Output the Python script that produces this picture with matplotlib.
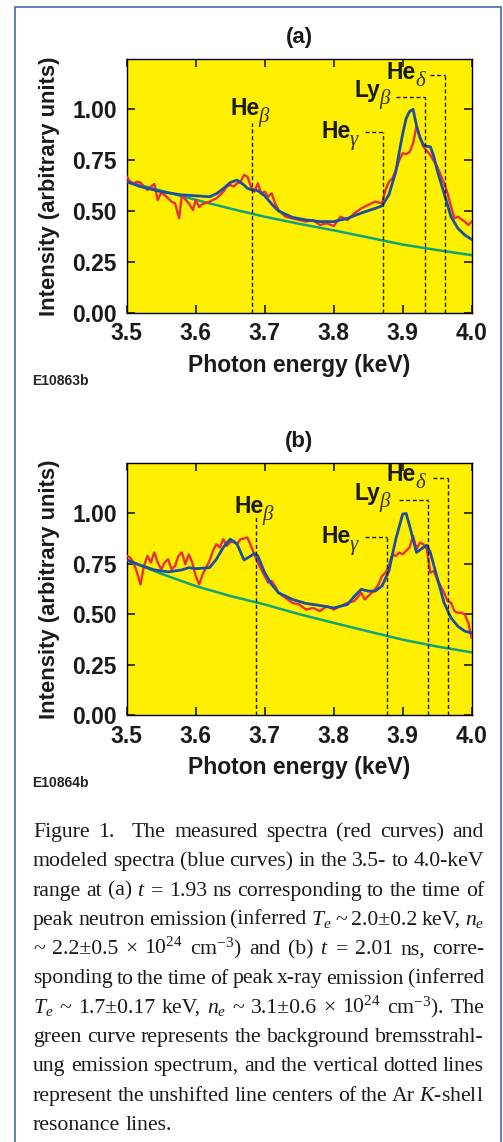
import numpy as np
import matplotlib.pyplot as plt
from matplotlib.patches import Rectangle

plt.rcParams['font.family'] = ['Liberation Sans', 'DejaVu Sans']
plt.rcParams['mathtext.fontset'] = 'custom'
plt.rcParams['mathtext.rm'] = 'Liberation Serif'
plt.rcParams['mathtext.it'] = 'Liberation Serif:italic'
plt.rcParams['mathtext.bf'] = 'Liberation Serif:bold'

W, H = 503, 1142

# ---- panel (a) ----
red_a_x = [3.500, 3.505, 3.510, 3.515, 3.520, 3.525, 3.530, 3.535, 3.540, 3.545,
           3.550, 3.555, 3.560, 3.565, 3.570, 3.576, 3.580, 3.585, 3.590, 3.596,
           3.600, 3.605, 3.610, 3.620, 3.630, 3.640, 3.645, 3.650, 3.655, 3.660,
           3.665, 3.670, 3.675, 3.680, 3.685, 3.690, 3.695, 3.700, 3.705, 3.710,
           3.715, 3.720, 3.730, 3.740, 3.750, 3.760, 3.770, 3.780, 3.790, 3.800,
           3.810, 3.820, 3.830, 3.840, 3.850, 3.860, 3.870, 3.875, 3.880, 3.885,
           3.890, 3.895, 3.900, 3.905, 3.910, 3.915, 3.920, 3.925, 3.930, 3.940,
           3.950, 3.960, 3.965, 3.970, 3.975, 3.980, 3.990, 3.995, 4.000]
red_a_y = [0.669, 0.644, 0.636, 0.644, 0.640, 0.620, 0.603, 0.620, 0.633, 0.554,
           0.590, 0.579, 0.562, 0.546, 0.538, 0.464, 0.579, 0.557, 0.538, 0.505,
           0.554, 0.520, 0.534, 0.546, 0.562, 0.595, 0.620, 0.628, 0.620, 0.636,
           0.644, 0.677, 0.669, 0.620, 0.595, 0.636, 0.587, 0.595, 0.570, 0.587,
           0.538, 0.505, 0.472, 0.464, 0.456, 0.448, 0.456, 0.431, 0.440, 0.426,
           0.472, 0.456, 0.489, 0.513, 0.530, 0.546, 0.538, 0.603, 0.644, 0.660,
           0.700, 0.750, 0.784, 0.780, 0.790, 0.833, 0.915, 0.866, 0.816, 0.775,
           0.718, 0.636, 0.587, 0.521, 0.464, 0.472, 0.448, 0.431, 0.448]

blue_a_x = [3.50, 3.52, 3.55, 3.58, 3.60, 3.62, 3.63, 3.64, 3.65, 3.66,
            3.67, 3.675, 3.68, 3.69, 3.70, 3.71, 3.72, 3.74, 3.76, 3.78,
            3.80, 3.82, 3.84, 3.86, 3.87, 3.88, 3.89, 3.895, 3.90, 3.905,
            3.91, 3.915, 3.92, 3.925, 3.93, 3.935, 3.94, 3.945, 3.95, 3.96,
            3.97, 3.98, 3.99, 4.00]
blue_a_y = [0.644, 0.620, 0.595, 0.579, 0.575, 0.570, 0.585, 0.610, 0.640, 0.652,
            0.628, 0.612, 0.605, 0.600, 0.575, 0.535, 0.500, 0.469, 0.456, 0.448,
            0.448, 0.464, 0.490, 0.513, 0.525, 0.580, 0.693, 0.790, 0.880, 0.955,
            0.990, 1.000, 0.920, 0.860, 0.825, 0.818, 0.816, 0.770, 0.700, 0.587,
            0.472, 0.415, 0.382, 0.360]

green_a_x = [3.50, 3.55, 3.60, 3.65, 3.70, 3.75, 3.80, 3.85, 3.90, 3.95, 4.00]
green_a_y = [0.645, 0.600, 0.555, 0.512, 0.472, 0.437, 0.405, 0.370, 0.335, 0.308, 0.283]

# ---- panel (b) ----
red_b_x = [3.500, 3.505, 3.510, 3.515, 3.520, 3.525, 3.530, 3.535, 3.540, 3.545,
           3.550, 3.555, 3.560, 3.565, 3.570, 3.575, 3.580, 3.585, 3.590, 3.595,
           3.600, 3.605, 3.610, 3.615, 3.620, 3.625, 3.630, 3.635, 3.640, 3.645,
           3.650, 3.655, 3.660, 3.665, 3.670, 3.675, 3.680, 3.685, 3.690, 3.695,
           3.700, 3.705, 3.710, 3.715, 3.720, 3.730, 3.740, 3.750, 3.760, 3.770,
           3.780, 3.790, 3.800, 3.810, 3.820, 3.830, 3.840, 3.845, 3.850, 3.860,
           3.865, 3.870, 3.875, 3.880, 3.885, 3.890, 3.895, 3.900, 3.905, 3.910,
           3.915, 3.920, 3.925, 3.930, 3.935, 3.940, 3.945, 3.950, 3.955, 3.960,
           3.965, 3.970, 3.975, 3.980, 3.985, 3.990, 3.995, 4.000]
red_b_y = [0.788, 0.780, 0.755, 0.705, 0.647, 0.738, 0.788, 0.755, 0.805, 0.755,
           0.722, 0.755, 0.772, 0.722, 0.738, 0.788, 0.805, 0.747, 0.796, 0.755,
           0.689, 0.647, 0.697, 0.730, 0.763, 0.813, 0.846, 0.830, 0.871, 0.838,
           0.855, 0.863, 0.846, 0.871, 0.874, 0.879, 0.838, 0.796, 0.755, 0.722,
           0.689, 0.656, 0.664, 0.639, 0.606, 0.581, 0.556, 0.548, 0.523, 0.531,
           0.515, 0.540, 0.523, 0.540, 0.556, 0.565, 0.606, 0.573, 0.589, 0.623,
           0.647, 0.689, 0.705, 0.738, 0.796, 0.788, 0.805, 0.796, 0.813, 0.830,
           0.887, 0.822, 0.854, 0.846, 0.822, 0.705, 0.714, 0.672, 0.639, 0.606,
           0.565, 0.556, 0.515, 0.507, 0.507, 0.498, 0.457, 0.382]

blue_b_x = [3.50, 3.52, 3.54, 3.56, 3.58, 3.59, 3.60, 3.62, 3.63, 3.64,
            3.65, 3.66, 3.67, 3.68, 3.685, 3.69, 3.70, 3.71, 3.72, 3.74,
            3.76, 3.78, 3.80, 3.82, 3.83, 3.84, 3.85, 3.86, 3.87, 3.88,
            3.89, 3.90, 3.905, 3.91, 3.92, 3.93, 3.935, 3.94, 3.95, 3.96,
            3.97, 3.98, 3.99, 4.00]
blue_b_y = [0.768, 0.742, 0.719, 0.709, 0.719, 0.730, 0.725, 0.730, 0.772, 0.830,
            0.871, 0.846, 0.768, 0.788, 0.800, 0.788, 0.705, 0.647, 0.606, 0.573,
            0.553, 0.543, 0.531, 0.548, 0.589, 0.623, 0.614, 0.614, 0.639, 0.714,
            0.871, 0.995, 0.998, 0.937, 0.805, 0.830, 0.841, 0.805, 0.680, 0.556,
            0.482, 0.440, 0.416, 0.407]

green_b_x = [3.50, 3.55, 3.60, 3.65, 3.70, 3.75, 3.80, 3.85, 3.90, 3.95, 4.00]
green_b_y = [0.768, 0.700, 0.639, 0.590, 0.548, 0.500, 0.457, 0.415, 0.374, 0.340, 0.311]

# line centres: energy, top of dashed line, start of horizontal leader
line_base = ['He', 'He', 'Ly', 'He']
line_greek = ['β', 'γ', 'β', 'δ']
centres_a = [3.682, 3.872, 3.932, 3.961]
tops_a = [0.931, 0.887, 1.062, 1.167]
leader_a = [None, 3.845, 3.891, 3.940]
label_pos_a = [(3.650, 0.970), (3.782, 0.857), (3.830, 1.062), (3.877, 1.150)]

centres_b = [3.687, 3.877, 3.937, 3.966]
tops_b = [0.987, 0.884, 1.065, 1.172]
leader_b = [None, 3.846, 3.894, 3.944]
label_pos_b = [(3.656, 1.000), (3.782, 0.851), (3.830, 1.065), (3.877, 1.157)]

x_ticks = [3.5, 3.6, 3.7, 3.8, 3.9, 4.0]
y_ticks = [0.00, 0.25, 0.50, 0.75, 1.00]

YELLOW = '#fff000'
RED = '#e8303a'
BLUE = '#1c4f9e'
GREEN = '#10a47c'
INK = '#1a1a1a'


def draw_panel(ax, red, blue, green, centres, tops, leaders, label_pos, title, code):
    ax.set_facecolor(YELLOW)
    ax.plot(green[0], green[1], color=GREEN, lw=1.8, zorder=2)
    ax.plot(red[0], red[1], color=RED, lw=1.7, zorder=3)
    ax.plot(blue[0], blue[1], color=BLUE, lw=2.0, zorder=4)

    for c, t, l in zip(centres, tops, leaders):
        ax.plot([c, c], [0, t], color=INK, lw=1.0, ls=(0, (2.9, 1.9)), zorder=5)
        if l is not None:
            ax.plot([l, c], [t, t], color=INK, lw=1.0, ls=(0, (2.9, 1.9)), zorder=5)

    renderer = ax.figure.canvas.get_renderer()
    for base, greek, (lx, ly) in zip(line_base, line_greek, label_pos):
        t = ax.text(lx, ly, base, fontsize=16.5, fontweight='bold', va='baseline',
                    ha='left', color=INK, zorder=6)
        w_pt = t.get_window_extent(renderer).width * 72 / 100
        ax.annotate(greek, xy=(lx, ly), xytext=(w_pt - 0.8, -5), textcoords='offset points',
                    fontsize=15, family='Liberation Serif', style='italic',
                    va='baseline', ha='left', color='#333333', zorder=6)

    ax.set_xlim(3.5, 4.0)
    ax.set_ylim(0, 1.246)
    ax.set_xticks(x_ticks)
    ax.set_xticklabels([f'{v:.1f}' for v in x_ticks])
    ax.set_yticks(y_ticks)
    ax.set_yticklabels([f'{v:.2f}' for v in y_ticks])
    ax.tick_params(direction='in', length=6, width=1.2, top=True, right=True,
                   labelsize=16.5, pad=7, colors=INK)
    for lab in ax.get_xticklabels() + ax.get_yticklabels():
        lab.set_fontweight('bold')
    for sp in ax.spines.values():
        sp.set_linewidth(1.0)
    ax.set_xlabel('Photon energy (keV)', fontsize=16.5, fontweight='bold', labelpad=6,
                  color=INK)
    ax.set_ylabel('Intensity (arbitrary units)', fontsize=15.8, fontweight='bold',
                  labelpad=9, color=INK)
    ax.set_title(title, fontsize=16, fontweight='bold', pad=12, color=INK)
    ax.text(-0.275, -0.27, code, transform=ax.transAxes, fontsize=10, fontweight='bold',
            color='#222222', va='center')


fig = plt.figure(figsize=(W / 100, H / 100), dpi=100)
fig.patch.set_facecolor('white')
fig.add_artist(Rectangle((15 / W, -0.01), (501 - 15) / W, 1.01 - 7 / H,
                         transform=fig.transFigure, fill=False,
                         edgecolor='#4a78b4', lw=1.3))

ax_a = fig.add_axes([126.7 / W, 1 - 312.7 / H, 345 / W, 253.4 / H])
draw_panel(ax_a, (red_a_x, red_a_y), (blue_a_x, blue_a_y), (green_a_x, green_a_y),
           centres_a, tops_a, leader_a, label_pos_a, '(a)', 'E10863b')

ax_b = fig.add_axes([126.7 / W, 1 - 715.3 / H, 345 / W, 252 / H])
draw_panel(ax_b, (red_b_x, red_b_y), (blue_b_x, blue_b_y), (green_b_x, green_b_y),
           centres_b, tops_b, leader_b, label_pos_b, '(b)', 'E10864b')

# ---- caption, justified by hand ----
caption = [
    'Figure 1.  The measured spectra (red curves) and',
    'modeled spectra (blue curves) in the 3.5- to 4.0-keV',
    'range at (a) $t$ = 1.93 ns corresponding to the time of',
    'peak neutron emission (inferred $T_e$ ~ 2.0±0.2 keV, $n_e$',
    r'~ 2.2±0.5 × $10^{24}$ $\mathrm{cm}^{-3}$) and (b) $t$ = 2.01 ns, corre-',
    'sponding to the time of peak x-ray emission (inferred',
    r'$T_e$ ~ 1.7±0.17 keV, $n_e$ ~ 3.1±0.6 × $10^{24}$ $\mathrm{cm}^{-3}$). The',
    'green curve represents the background bremsstrahl-',
    'ung emission spectrum, and the vertical dotted lines',
    'represent the unshifted line centers of the Ar $K$-shell',
    'resonance lines.',
]
cap_left, cap_right = 33, 484
cap_base0, cap_step = 837, 29.3
renderer = fig.canvas.get_renderer()


def split_words(line):
    words, weights = [], []
    w = 0
    for tok in line.split(' '):
        if tok == '':
            w += 1
            continue
        if words:
            weights.append(w)
        words.append(tok)
        w = 1
    return words, weights


def measure(words, size):
    out = []
    for wd in words:
        t = fig.text(0, 0, wd, fontsize=size, family='Liberation Serif')
        out.append(t.get_window_extent(renderer).width)
        t.remove()
    return out


size = 15.7
scale = 1.0
for line in caption[:-1]:
    words, weights = split_words(line)
    tot = sum(measure(words, size))
    scale = min(scale, (cap_right - cap_left - 2.5 * sum(weights)) / tot)
size = size * scale

for i, line in enumerate(caption):
    words, weights = split_words(line)
    widths = measure(words, size)
    if i < len(caption) - 1:
        gap = (cap_right - cap_left - sum(widths)) / sum(weights)
    else:
        gap = 0.25 * size * 100 / 72
    y = 1 - (cap_base0 + i * cap_step) / H
    x = cap_left
    for j, (wd, wdt) in enumerate(zip(words, widths)):
        fig.text(x / W, y, wd, fontsize=size, family='Liberation Serif',
                 va='baseline', ha='left', color=INK)
        if j < len(weights):
            x += wdt + gap * weights[j]

fig.savefig('out.png', dpi=100)
